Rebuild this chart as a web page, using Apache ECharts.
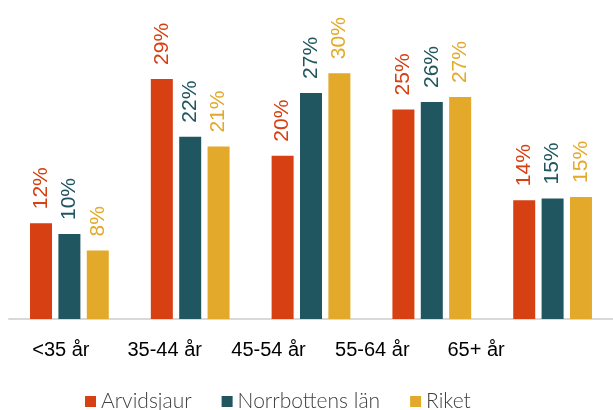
<!DOCTYPE html>
<html lang="sv">
<head>
    <meta charset="UTF-8">
    <title>Åldersfördelning</title>
    <style>
        body{ margin:0; background:#fff; }
    </style>
</head>
<body>
<div id="main" style="width: 613px;height:410px;"></div>
<script src="https://cdn.jsdelivr.net/npm/echarts@6/dist/echarts.min.js"></script>
<script type="text/javascript">
    // kategorier och värden (andel i procent)
    var categories = ['<35 år', '35-44 år', '45-54 år', '55-64 år', '65+ år'];
    var arvidsjaur = [11.6, 29.1, 19.8, 25.4, 14.4];
    var norrbotten = [10.3, 22.1, 27.4, 26.3, 14.6];
    var riket = [8.3, 20.9, 29.8, 26.9, 14.8];

    var colors = ['#D64012', '#20565F', '#E3A92A'];

    var chart = echarts.init(document.getElementById('main'));

    function makeSeries(name, data, color) {
        return {
            name: name,
            type: 'bar',
            xAxisIndex: 0,
            yAxisIndex: 0,
            data: data,
            barWidth: 22,
            barGap: '29%',
            itemStyle: { color: color },
            label: {
                show: true,
                position: 'top',
                rotate: 90,
                align: 'left',
                verticalAlign: 'middle',
                distance: 14,
                color: color,
                fontFamily: 'Liberation Sans',
                fontWeight: 'normal',
                fontSize: 21,
                formatter: function (p) { return Math.round(p.value) + '%'; }
            }
        };
    }

    var option = {
        animation: false,
        color: colors,
        grid: [
            { left: 9, right: -6, top: 22, bottom: 91 },
            // bara för kategorietiketterna, som sitter tätare än staplarna
            { left: 9, right: 85, top: 22, bottom: 91 }
        ],
        legend: {
            data: ['Arvidsjaur', 'Norrbottens län', 'Riket'],
            bottom: -7,
            left: 80,
            icon: 'rect',
            itemWidth: 11,
            itemHeight: 11,
            itemGap: 30,
            textStyle: {
                fontFamily: "'Lato Light', Lato, sans-serif",
                fontWeight: 300,
                fontSize: 21,
                color: '#404040'
            }
        },
        xAxis: [
            {
                type: 'category',
                gridIndex: 0,
                data: categories,
                axisLine: { lineStyle: { color: '#d9d9d9', width: 2 } },
                axisTick: { show: false },
                axisLabel: { show: false }
            },
            {
                type: 'category',
                gridIndex: 1,
                data: categories,
                axisLine: { show: false },
                axisTick: { show: false },
                axisLabel: {
                    margin: 21,
                    color: '#000',
                    fontFamily: 'Liberation Sans',
                    fontSize: 20
                }
            }
        ],
        yAxis: [
            { type: 'value', gridIndex: 0, min: 0, max: 36, show: false, splitLine: { show: false } },
            { type: 'value', gridIndex: 1, min: 0, max: 36, show: false, splitLine: { show: false } }
        ],
        series: [
            makeSeries('Arvidsjaur', arvidsjaur, colors[0]),
            makeSeries('Norrbottens län', norrbotten, colors[1]),
            makeSeries('Riket', riket, colors[2])
        ]
    };
    option && chart.setOption(option);
</script>
</body>
</html>
